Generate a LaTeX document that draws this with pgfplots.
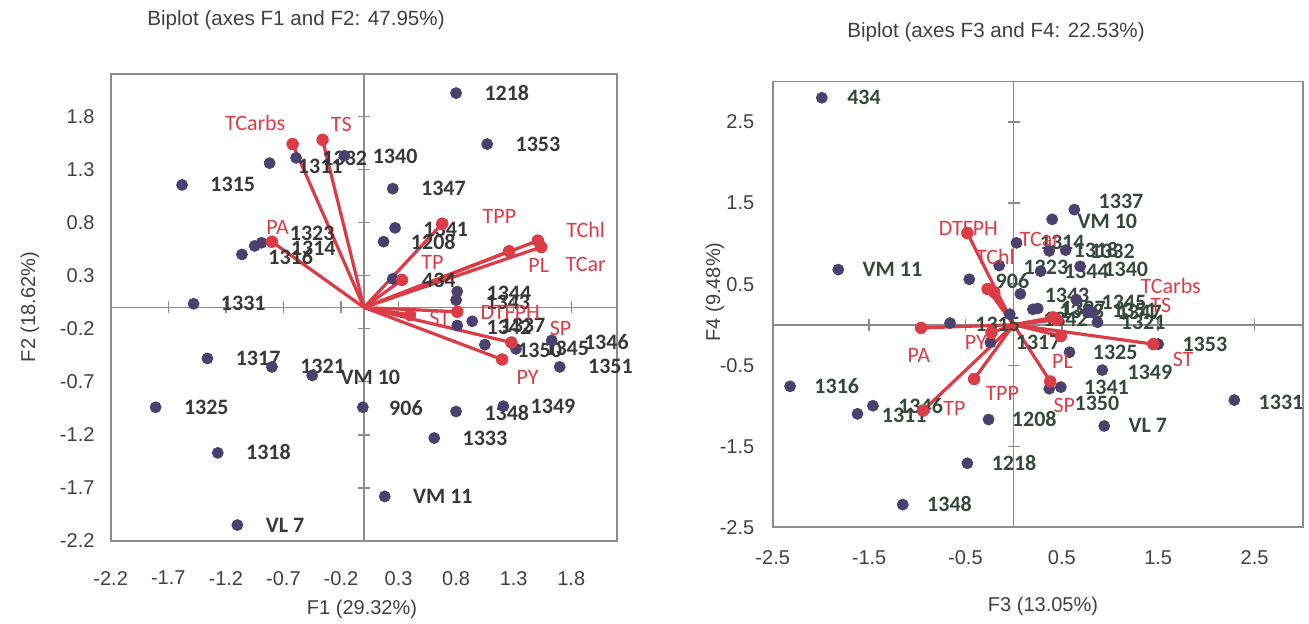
\documentclass[border=0pt]{standalone}
\usepackage{pgfplots}
\usepackage{pgfplotstable}
\pgfplotsset{compat=1.18}
\usepackage{fontspec}
\setmainfont{Liberation Sans}
\newfontfamily\calfont{Carlito}
\definecolor{ptc}{HTML}{4B4170}
\definecolor{vr}{HTML}{DC3C46}
\definecolor{axc}{HTML}{8C8C8C}
\definecolor{txt}{HTML}{404040}
\definecolor{lblL}{HTML}{383838}
\definecolor{lblR}{HTML}{34483C}

% \lab{dx}{dy}{text}: label offset from its point, in reference pixels (1px = 0.5pt)
\newcommand\lab[3]{\makebox[0pt][l]{\hspace*{\dimexpr#1pt/2\relax}\raisebox{\dimexpr#2pt/2-3.5pt\relax}{#3}}}

\pgfplotstableread[col sep=comma]{
x,y,name
0.80,2.02,\lab{27}{0}{1218}
1.07,1.54,\lab{27}{0}{1353}
-0.82,1.36,\lab{27}{-3}{1311}
-0.59,1.41,\lab{25}{-1}{1332}
-0.17,1.43,\lab{27}{-1}{1340}
-1.58,1.155,\lab{27}{0}{1315}
0.25,1.12,\lab{27}{0}{1347}
0.27,0.75,\lab{27}{-2}{1341}
0.17,0.62,\lab{26}{-1}{1208}
0.25,0.27,\lab{28}{-2}{434}
0.81,0.15,\lab{28}{-2}{1344}
0.80,0.07,\lab{28}{-2}{1343}
0.81,-0.17,\lab{28}{-2}{1342}
0.94,-0.13,\lab{27}{-4}{1337}
1.05,-0.35,\lab{31}{-6}{1350}
1.32,-0.39,\lab{27}{0}{1345}
1.63,-0.31,\lab{31}{-2}{1346}
1.70,-0.56,\lab{27}{0}{1351}
-0.89,0.61,\lab{27}{9}{1323}
-0.95,0.58,\lab{35}{-3}{1314}
-1.06,0.50,\lab{25}{-3}{1316}
-1.48,0.035,\lab{26}{0}{1331}
-1.36,-0.48,\lab{27}{0}{1317}
-0.80,-0.56,\lab{27}{0}{1321}
-0.45,-0.64,\lab{27}{-2}{VM 10}
-0.01,-0.94,\lab{25}{-1}{906}
-1.81,-0.94,\lab{27}{0}{1325}
-1.27,-1.37,\lab{27}{0}{1318}
-1.10,-2.05,\lab{27}{0}{VL 7}
0.18,-1.78,\lab{27}{0}{VM 11}
0.80,-0.98,\lab{27}{-2}{1348}
1.21,-0.93,\lab{26}{0}{1349}
0.61,-1.23,\lab{27}{0}{1333}
}\obsL

\pgfplotstableread[col sep=comma]{
x,y,name
-0.62,1.54,\lab{-69}{21}{TCarbs}
-0.36,1.58,\lab{7}{15}{TS}
-0.80,0.62,\lab{-7}{14}{PA}
0.68,0.79,\lab{39}{7}{TPP}
0.33,0.26,\lab{18}{17}{TP}
1.51,0.63,\lab{27}{10}{TChl}
1.54,0.57,\lab{23}{-18}{TCar}
1.26,0.53,\lab{18}{-14}{PL}
0.81,-0.04,\lab{22}{-1}{DTFPH}
0.40,-0.07,\lab{18}{-4}{ST}
1.28,-0.33,\lab{37}{14}{SP}
1.20,-0.49,\lab{13}{-18}{PY}
}\vecL

\pgfplotstableread[col sep=comma]{
x,y,name
-1.99,2.80,\lab{24}{0}{434}
-1.82,0.68,\lab{23}{0}{VM 11}
-2.32,-0.76,\lab{23}{0}{1316}
-1.62,-1.10,\lab{23}{-2}{1311}
-1.46,-1.00,\lab{24}{-1}{1346}
-0.26,-1.17,\lab{22}{0}{1208}
-0.48,-1.71,\lab{23}{0}{1218}
-1.15,-2.22,\lab{23}{0}{1348}
2.29,-0.93,\lab{23}{-2}{1331}
0.94,-1.25,\lab{23}{0}{VL 7}
0.92,-0.56,\lab{24}{-2}{1349}
0.58,-0.34,\lab{22}{0}{1325}
1.50,-0.24,\lab{23}{0}{1353}
0.49,-0.77,\lab{22}{0}{1341}
0.37,-0.79,\lab{24}{-15}{1350}
-0.24,-0.22,\lab{24}{0}{1317}
-0.66,0.02,\lab{24}{-1}{1315}
-0.46,0.56,\lab{25}{-2}{906}
-0.15,0.73,\lab{23}{-2}{1323}
0.03,1.01,\lab{22}{0}{1314}
0.37,0.91,\lab{23}{0}{1318}
0.54,0.92,\lab{23}{-1}{1332}
0.28,0.66,\lab{22}{0}{1344}
0.69,0.72,\lab{22}{-3}{1340}
0.63,1.42,\lab{23}{8}{1337}
0.40,1.30,\lab{24}{-2}{VM 10}
0.07,0.38,\lab{23}{-2}{1343}
-0.04,0.13,\lab{32}{-5}{1342}
0.20,0.19,\lab{25}{-2}{1333}
0.25,0.20,\lab{22}{0}{1327}
0.65,0.31,\lab{24}{-3}{1345}
0.77,0.17,\lab{23}{0}{1351}
0.82,0.15,\lab{23}{0}{1347}
0.87,0.03,\lab{22}{0}{1321}
}\obsR

\pgfplotstableread[col sep=comma]{
x,y,name
-0.48,1.13,\lab{-30}{5}{DTFPH}
-0.27,0.44,\lab{-13}{32}{TChl}
-0.20,0.40,\lab{24}{53}{TCar}
0.41,0.09,\lab{86}{31}{TCarbs}
0.45,0.06,\lab{92}{14}{TS}
1.45,-0.24,\lab{18}{-15}{ST}
0.49,-0.14,\lab{-10}{-25}{PL}
0.38,-0.70,\lab{2}{-24}{SP}
-0.41,-0.67,\lab{10}{-15}{TPP}
-0.94,-1.06,\lab{19}{2}{TP}
-0.96,-0.04,\lab{-15}{-28}{PA}
-0.23,-0.10,\lab{-28}{-10}{PY}
}\vecR

\pgfplotsset{
  lblnodes/.style 2 args={
    nodes near coords, point meta=explicit symbolic,
    every node near coord/.append style={anchor=base west, inner sep=0pt,
      font=\calfont#2\fontsize{11}{13}\selectfont, text=#1}
  },
  frameax/.style={
    anchor=south west, scale only axis,
    axis line style={axc, line width=0.8pt},
    major tick length=0pt, tick style={draw=none},
    tick label style={font=\fontsize{10}{12}\selectfont, text=txt},
  },
  centerax/.style={
    anchor=south west, scale only axis, clip=false,
    axis lines=center,
    axis line style={axc, line width=0.8pt, -},
    every inner x axis line/.append style={-},
    every inner y axis line/.append style={-},
    xticklabel={\relax}, yticklabel={\relax},
    tick align=center, major tick length=6pt,
    tick style={axc, line width=0.7pt},
  },
}

% draw the loading vectors (origin to each row of a table)
\newcommand\drawvectors[1]{%
  \pgfplotstablegetrowsof{#1}%
  \pgfmathtruncatemacro\nlast{\pgfplotsretval-1}%
  \pgfplotsforeachungrouped \i in {0,...,\nlast}{%
    \pgfplotstablegetelem{\i}{x}\of#1\let\vx\pgfplotsretval
    \pgfplotstablegetelem{\i}{y}\of#1\let\vy\pgfplotsretval
    \edef\tmp{\noexpand\addplot[vr, line width=1.6pt, forget plot] coordinates {(0,0) (\vx,\vy)};}%
    \tmp
  }%
}

\begin{document}
\begin{tikzpicture}[x=1pt,y=1pt]
\useasboundingbox (0,0) rectangle (654.5,312);

% ---------- left biplot ----------
\begin{axis}[frameax,
  at={(55.35pt,41.5pt)}, width=253.3pt, height=233.5pt,
  xmin=-2.2, xmax=2.2, ymin=-2.2, ymax=2.2,
  xtick={-2.2,-1.7,-1.2,-0.7,-0.2,0.3,0.8,1.3,1.8},
  xticklabels={-2.2,-1.7,-1.2,-0.7,-0.2,0.3,0.8,1.3,1.8},
  ytick={-2.2,-1.7,-1.2,-0.7,-0.2,0.3,0.8,1.3,1.8},
  yticklabels={-2.2,-1.7,-1.2,-0.7,-0.2,0.3,0.8,1.3,1.8},
  xticklabel style={yshift=-11.5pt},
  yticklabel style={xshift=-4.6pt},
]
\end{axis}
\begin{axis}[centerax,
  at={(55.35pt,41.5pt)}, width=253.3pt, height=233.5pt,
  xmin=-2.2, xmax=2.2, ymin=-2.2, ymax=2.2,
  xtick={-2.2,-1.7,-1.2,-0.7,-0.2,0.3,0.8,1.3,1.8},
  ytick={-2.2,-1.7,-1.2,-0.7,-0.2,0.3,0.8,1.3,1.8},
]
\drawvectors{\vecL}
\addplot[only marks, mark=*, mark size=2.75pt, mark options={fill=ptc, draw=ptc},
  lblnodes={lblL}{\bfseries}] table[x=x, y=y, meta=name] {\obsL};
\addplot[only marks, mark=*, mark size=2.9pt, mark options={fill=vr, draw=vr},
  lblnodes={vr}{}] table[x=x, y=y, meta=name] {\vecL};
\end{axis}

% ---------- right biplot ----------
\begin{axis}[frameax,
  at={(386.35pt,48.35pt)}, width=265pt, height=222.85pt,
  xmin=-2.5, xmax=3.0, ymin=-2.5, ymax=3.0,
  xtick={-2.5,-1.5,-0.5,0.5,1.5,2.5},
  xticklabels={-2.5,-1.5,-0.5,0.5,1.5,2.5},
  ytick={-2.5,-1.5,-0.5,0.5,1.5,2.5},
  yticklabels={-2.5,-1.5,-0.5,0.5,1.5,2.5},
  xticklabel style={yshift=-8.3pt},
  yticklabel style={xshift=-5.7pt},
]
\end{axis}
\begin{axis}[centerax,
  at={(386.35pt,48.35pt)}, width=265pt, height=222.85pt,
  xmin=-2.5, xmax=3.0, ymin=-2.5, ymax=3.0,
  xtick={-2.5,-1.5,-0.5,0.5,1.5,2.5},
  ytick={-2.5,-1.5,-0.5,0.5,1.5,2.5},
]
\drawvectors{\vecR}
\addplot[only marks, mark=*, mark size=2.75pt, mark options={fill=ptc, draw=ptc},
  lblnodes={lblR}{\bfseries}] table[x=x, y=y, meta=name] {\obsR};
\addplot[only marks, mark=*, mark size=2.9pt, mark options={fill=vr, draw=vr},
  lblnodes={vr}{}] table[x=x, y=y, meta=name] {\vecR};
\end{axis}

% titles and axis labels
\node[font=\fontsize{10.3}{12}\selectfont, text=txt] at (148,302) {Biplot (axes F1 and F2: 47.95\%)};
\node[font=\fontsize{10.3}{12}\selectfont, text=txt] at (498,296) {Biplot (axes F3 and F4: 22.53\%)};
\node[font=\fontsize{10}{12}\selectfont, text=txt] at (181,7.5) {F1 (29.32\%)};
\node[font=\fontsize{10}{12}\selectfont, text=txt] at (521.5,9) {F3 (13.05\%)};
\node[font=\fontsize{10}{12}\selectfont, text=txt, rotate=90] at (15,158.5) {F2 (18.62\%)};
\node[font=\fontsize{10}{12}\selectfont, text=txt, rotate=90] at (357.5,166) {F4 (9.48\%)};
\end{tikzpicture}
\end{document}
